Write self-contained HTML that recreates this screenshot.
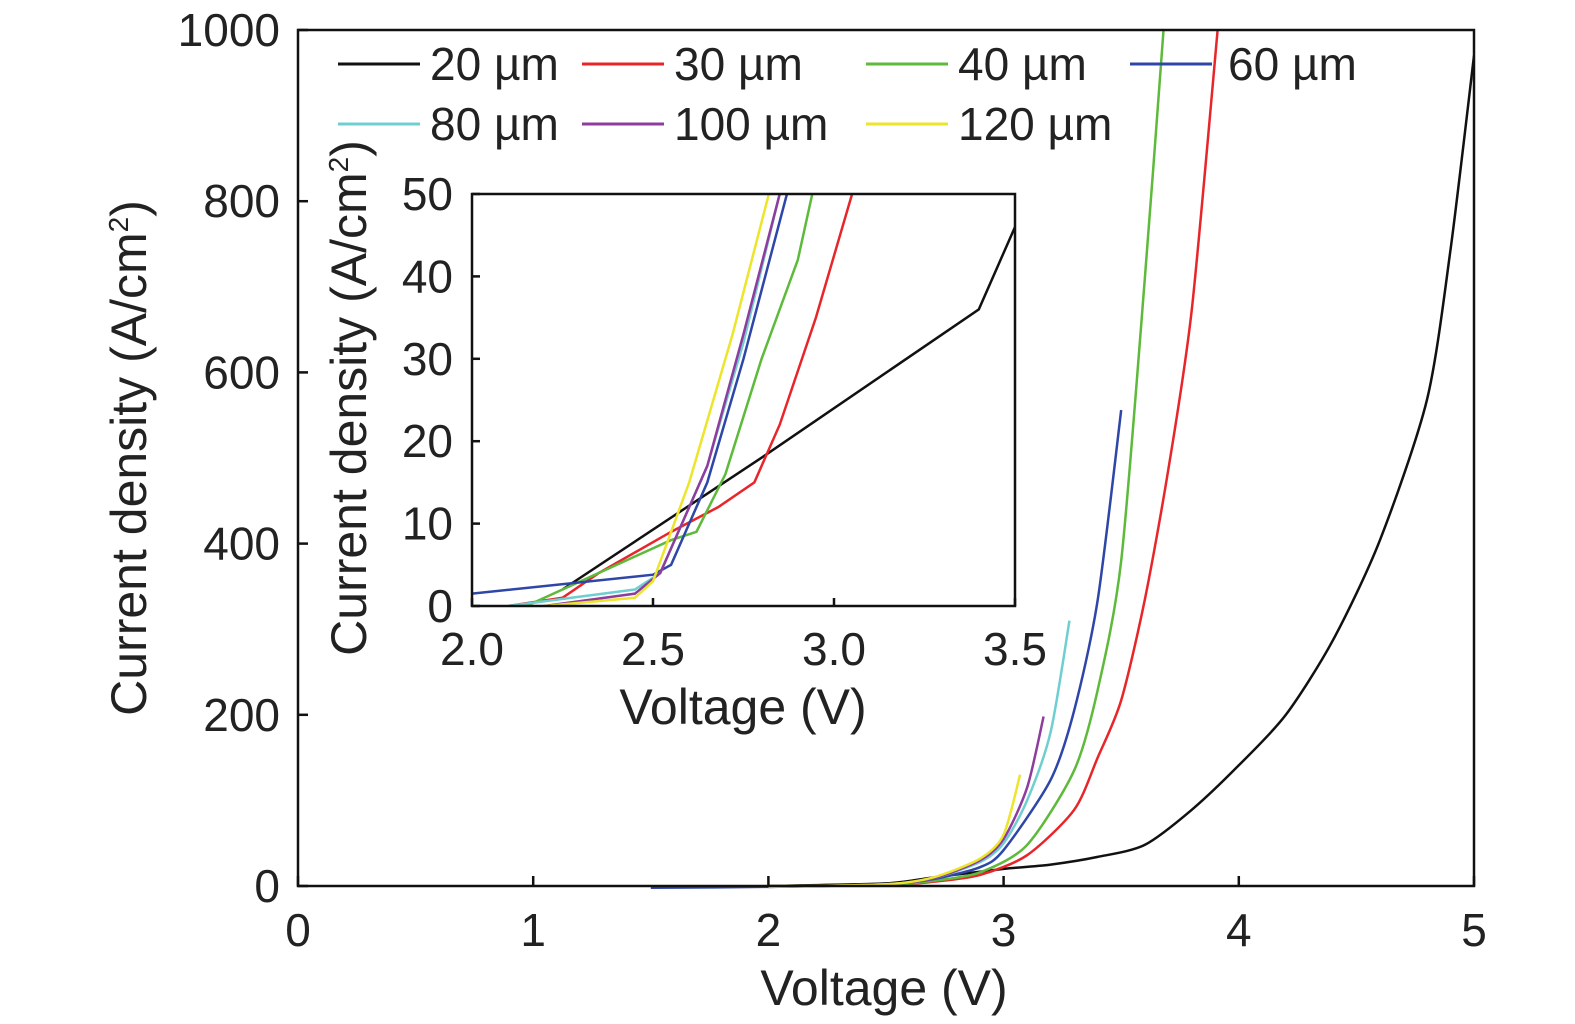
<!DOCTYPE html>
<html><head><meta charset="utf-8"><style>
html,body{margin:0;padding:0;background:#fff}
svg{display:block;font-family:"Liberation Sans",sans-serif}
</style></head><body>
<svg id="c" width="1575" height="1024" viewBox="0 0 1575 1024"></svg>
<script>
const seriesNames=["20 µm","30 µm","40 µm","60 µm","80 µm","100 µm","120 µm"];
const seriesColors=["#111111","#e8262a","#5dba3a","#2e46a8","#6fcfd0","#8e3c9e","#ece52a"];
const xTicks=[0,1,2,3,4,5];
const yTicks=[0,200,400,600,800,1000];
const insetXTicks=[2.0,2.5,3.0,3.5];
const insetYTicks=[0,10,20,30,40,50];
// main series [V, J]
const main20=[[2.0,0],[2.5,3],[2.7,10],[3.0,20],[3.2,25],[3.4,34],[3.6,48],[3.8,89],[4.0,141],[4.2,200],[4.4,287],[4.6,404],[4.8,568],[4.9,743],[5.0,970]];
const main30=[[2.0,0],[2.5,1],[2.7,5],[2.9,13],[3.1,36],[3.3,89],[3.4,150],[3.5,217],[3.6,334],[3.7,486],[3.8,673],[3.91,1000]];
const main40=[[2.0,0],[2.5,1],[2.7,6],[2.9,16],[3.1,48],[3.3,135],[3.4,229],[3.5,380],[3.6,708],[3.68,1000]];
const main60=[[1.5,-2],[2.0,-1],[2.5,2],[2.7,8],[2.9,22],[3.0,42],[3.2,124],[3.3,205],[3.4,334],[3.5,556]];
const main80=[[2.0,-1],[2.5,2],[2.7,9],[2.9,28],[3.0,50],[3.1,100],[3.2,180],[3.28,310]];
const main100=[[2.0,-1],[2.5,2],[2.7,9],[2.9,30],[3.0,55],[3.1,115],[3.17,198]];
const main120=[[2.0,-1],[2.5,2],[2.7,10],[2.9,32],[3.0,60],[3.07,130]];
// inset series
const in20=[[2.25,2],[2.8,18],[3.4,36],[3.5,46]];
const in30=[[2.1,0],[2.25,1],[2.35,4],[2.55,9],[2.68,12],[2.78,15],[2.85,22],[2.95,35],[3.05,50]];
const in40=[[2.15,0],[2.3,3],[2.55,8],[2.62,9],[2.7,16],[2.8,30],[2.9,42],[2.94,50]];
const in60=[[2.0,1.5],[2.5,3.8],[2.55,5],[2.65,15],[2.75,30],[2.87,50]];
const in80=[[2.1,0],[2.45,2],[2.52,4],[2.65,17],[2.75,32],[2.85,50]];
const in100=[[2.2,0],[2.45,1.5],[2.52,4],[2.65,17],[2.75,33],[2.85,50]];
const in120=[[2.2,0],[2.45,1],[2.5,3],[2.6,15],[2.72,33],[2.82,50]];
const mainSeries=[main20,main30,main40,main60,main80,main100,main120];
const insetSeries=[in20,in30,in40,in60,in80,in100,in120];

const NS="http://www.w3.org/2000/svg";
const svg=document.getElementById('c');
function mk(tag,attrs,parent){const e=document.createElementNS(NS,tag);for(const k in attrs)e.setAttribute(k,attrs[k]);(parent||svg).appendChild(e);return e;}
const M={x0:298,x1:1474,y0:886,y1:30,vx0:0,vx1:5,vy0:0,vy1:1000};
const I={x0:472,x1:1015,y0:606,y1:194,vx0:2,vx1:3.5,vy0:0,vy1:50};
const sx=(a,v)=>a.x0+(v-a.vx0)/(a.vx1-a.vx0)*(a.x1-a.x0);
const sy=(a,v)=>a.y0+(v-a.vy0)/(a.vy1-a.vy0)*(a.y1-a.y0);
function smooth(pts,tension){
  let d='M'+pts[0][0]+','+pts[0][1];
  for(let i=0;i<pts.length-1;i++){
    const p0=pts[i-1]||pts[i],p1=pts[i],p2=pts[i+1],p3=pts[i+2]||p2;
    const c1x=p1[0]+(p2[0]-p0[0])/6*tension,c1y=p1[1]+(p2[1]-p0[1])/6*tension;
    const c2x=p2[0]-(p3[0]-p1[0])/6*tension,c2y=p2[1]-(p3[1]-p1[1])/6*tension;
    d+=' C'+c1x+','+c1y+' '+c2x+','+c2y+' '+p2[0]+','+p2[1];
  }
  return d;
}
const defs=mk('defs',{});
const cm=mk('clipPath',{id:'cm'},defs);mk('rect',{x:M.x0,y:M.y1,width:M.x1-M.x0,height:M.y0-M.y1+3},cm);
const ci=mk('clipPath',{id:'ci'},defs);mk('rect',{x:I.x0,y:I.y1,width:I.x1-I.x0,height:I.y0-I.y1},ci);

const gm=mk('g',{'clip-path':'url(#cm)'});


mainSeries.forEach((s,i)=>{
  const p=mk('path',{d:smooth(s.map(d=>[sx(M,d[0]),sy(M,d[1])]),0.8),fill:'none',stroke:seriesColors[i],'stroke-width':2.5},gm);
  
  
});
const fr=mk('rect',{x:M.x0,y:M.y1,width:M.x1-M.x0,height:M.y0-M.y1,fill:'none',stroke:'#111','stroke-width':2.5});


xTicks.forEach(v=>{const x=sx(M,v);mk('line',{x1:x,x2:x,y1:M.y0,y2:M.y0-10,stroke:'#111','stroke-width':2.5});
  const t=mk('text',{x:x,y:946,'text-anchor':'middle','font-size':46,fill:'#222'});t.textContent=v;
  });
yTicks.forEach(v=>{const y=sy(M,v);mk('line',{x1:M.x0,x2:M.x0+10,y1:y,y2:y,stroke:'#111','stroke-width':2.5});
  const t=mk('text',{x:280,y:y+16,'text-anchor':'end','font-size':46,fill:'#222'});t.textContent=v;
  });
let t=mk('text',{x:884,y:1005,'text-anchor':'middle','font-size':50,fill:'#222'});t.textContent='Voltage (V)';

t=mk('text',{x:0,y:0,transform:'translate(146,458) rotate(-90)','text-anchor':'middle','font-size':50,fill:'#222'});
t.innerHTML='Current density (A/cm<tspan font-size="28" dy="-18">2</tspan><tspan dy="18">)</tspan>';


const legPos=[[338,64],[582,64],[866,64],[1130,64],[338,124],[582,124],[866,124]];
seriesNames.forEach((n,i)=>{
  const g=mk('g',{});
  
  
  const [x,y]=legPos[i];
  mk('line',{x1:x,x2:x+82,y1:y,y2:y,stroke:seriesColors[i],'stroke-width':3},g);
  const tt=mk('text',{x:i==3?x+98:x+92,y:y+16,'font-size':46,fill:'#222'},g);tt.textContent=n;
});

const ib=mk('rect',{x:I.x0,y:I.y1,width:I.x1-I.x0,height:I.y0-I.y1,fill:'#fff',stroke:'none'});

const gi=mk('g',{'clip-path':'url(#ci)'});


insetSeries.forEach((s,i)=>{
  const p=mk('polyline',{points:s.map(d=>sx(I,d[0])+','+sy(I,d[1])).join(' '),fill:'none',stroke:seriesColors[i],'stroke-width':2.5},gi);
  
  
});
const ifr=mk('rect',{x:I.x0,y:I.y1,width:I.x1-I.x0,height:I.y0-I.y1,fill:'none',stroke:'#111','stroke-width':2.5});

insetXTicks.forEach(v=>{const x=sx(I,v);mk('line',{x1:x,x2:x,y1:I.y0,y2:I.y0-8,stroke:'#111','stroke-width':2.5});
  const tt=mk('text',{x:x,y:665,'text-anchor':'middle','font-size':46,fill:'#222'});tt.textContent=v.toFixed(1);
  });
insetYTicks.forEach(v=>{const y=sy(I,v);mk('line',{x1:I.x0,x2:I.x0+8,y1:y,y2:y,stroke:'#111','stroke-width':2.5});
  const tt=mk('text',{x:453,y:y+16,'text-anchor':'end','font-size':46,fill:'#222'});tt.textContent=v;
  });
t=mk('text',{x:743,y:724,'text-anchor':'middle','font-size':50,fill:'#222'});t.textContent='Voltage (V)';

t=mk('text',{x:0,y:0,transform:'translate(366,398) rotate(-90)','text-anchor':'middle','font-size':50,fill:'#222'});
t.innerHTML='Current density (A/cm<tspan font-size="28" dy="-18">2</tspan><tspan dy="18">)</tspan>';

</script>
</body></html>
